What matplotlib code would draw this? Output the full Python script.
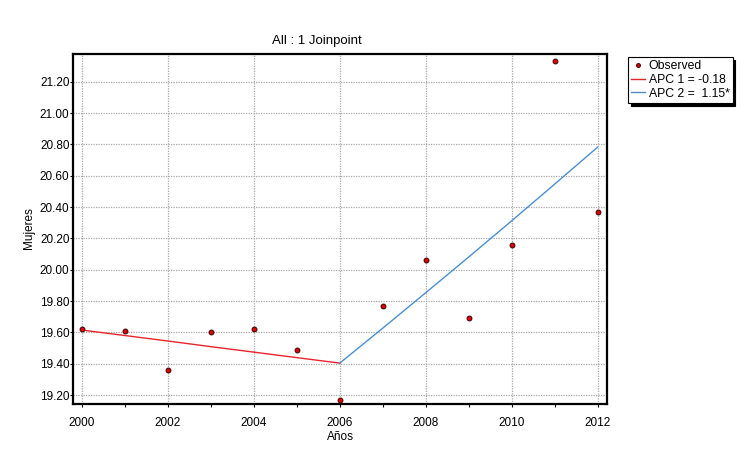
import matplotlib.pyplot as plt
import numpy as np

plt.rcParams['font.family'] = ['Liberation Sans', 'DejaVu Sans']

# Datos observados y modelo joinpoint (1 joinpoint en 2006)
years = list(range(2000, 2013))
observed = [19.62, 19.61, 19.36, 19.60, 19.62, 19.49, 19.17,
            19.77, 20.06, 19.69, 20.16, 21.33, 20.37]
seg1_years = [2000, 2001, 2002, 2003, 2004, 2005, 2006]
seg1_fit = [19.615, 19.580, 19.545, 19.509, 19.474, 19.439, 19.404]
seg2_years = [2006, 2007, 2008, 2009, 2010, 2011, 2012]
seg2_fit = [19.404, 19.627, 19.853, 20.081, 20.312, 20.546, 20.782]
labels = ['Observed', 'APC 1 = -0.18', 'APC 2 =  1.15*']

W, H = 746, 453
fig = plt.figure(figsize=(W / 100, H / 100), dpi=100)
ax = fig.add_axes([73 / W, 1 - 404 / H, (607 - 73) / W, (404 - 54) / H])

ax.plot(seg1_years, seg1_fit, color='#e8242c', lw=1.0, label=labels[1], zorder=3)
ax.plot(seg2_years, seg2_fit, color='#4a8fd0', lw=1.0, label=labels[2], zorder=3)
ax.plot(years, observed, 'o', ms=3.5, mfc='#e00000', mec='#3a0000', mew=0.7,
        ls='none', label=labels[0], zorder=4)

ax.set_xlim(1999.79, 2012.22)
ax.set_ylim(19.143, 21.377)
ax.set_xticks(np.arange(2000, 2013, 2))
ax.set_xticks(np.arange(2001, 2013, 2), minor=True)
ax.set_yticks(np.arange(19.2, 21.21, 0.2))
ax.set_yticklabels([f'{v:.2f}' for v in np.arange(19.2, 21.21, 0.2)])
ax.grid(True, which='major', color='#a8a8a8', ls=(0, (1, 1)), lw=0.9)
ax.tick_params(labelsize=8.5, length=2, width=0.8)
ax.tick_params(axis='x', pad=7)
ax.tick_params(axis='y', pad=0.5)
ax.tick_params(which='minor', length=2, width=0.8)
for s in ax.spines.values():
    s.set_linewidth(1.6)

ax.set_xlabel('Años', fontsize=8.5, labelpad=2)
fig.text(29 / W, 1 - 228 / H, 'Mujeres', fontsize=8.5, rotation=90,
         ha='center', va='center')
fig.text(317 / W, 1 - 41 / H, 'All : 1 Joinpoint', fontsize=9.5,
         ha='center', va='center')

h, l = ax.get_legend_handles_labels()
order = [2, 0, 1]
leg = fig.legend([h[i] for i in order], [l[i] for i in order],
                 loc='upper left', bbox_to_anchor=(628 / W, 1 - 57 / H),
                 fontsize=8.8, frameon=True, fancybox=False,
                 shadow={'color': 'black', 'alpha': 1},
                 handlelength=1.1, handletextpad=0.35, labelspacing=0.15,
                 borderpad=0.25, borderaxespad=0, markerscale=0.8)
leg.get_frame().set_edgecolor('black')
leg.get_frame().set_linewidth(0.8)

fig.savefig('out.png', dpi=100)
